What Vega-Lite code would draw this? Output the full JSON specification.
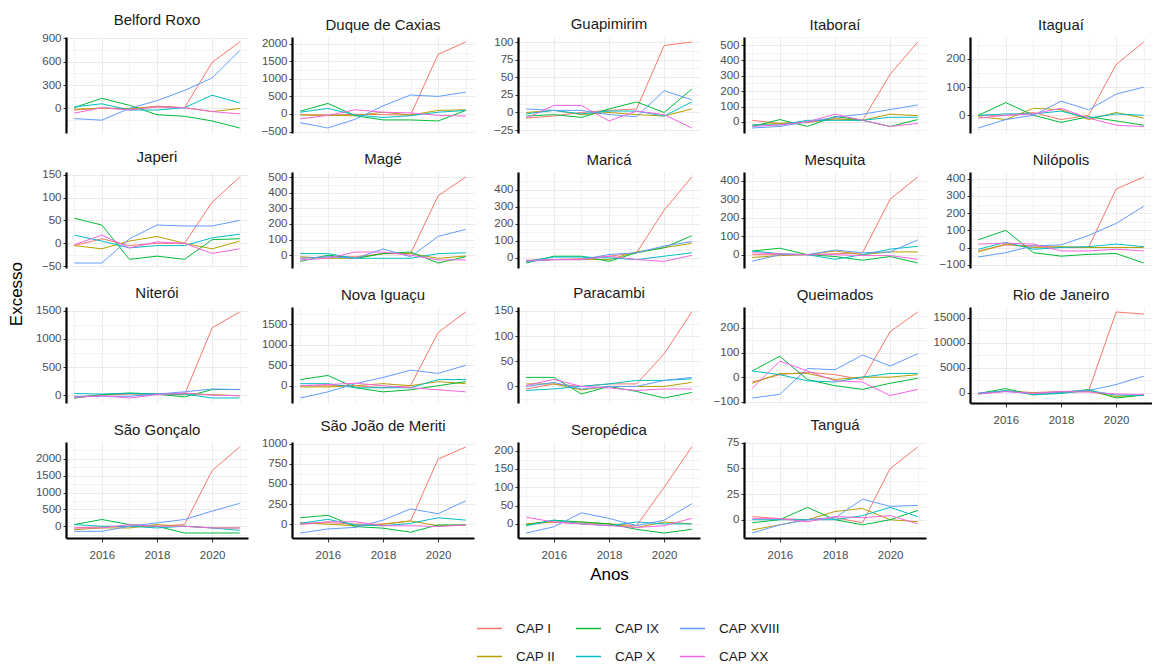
{
  "$schema": "https://vega.github.io/schema/vega-lite/v6.json",
  "background": "white",
  "padding": {"left": 8, "top": 13, "right": 0, "bottom": 0},
  "title": {"text": "Excesso", "orient": "left", "anchor": "middle", "fontSize": 17, "fontWeight": "normal", "font": "Liberation Sans", "color": "#000000", "offset": 9, "dx": 44},
  "data": {"values": [
    {"m":"Belford Roxo","a":2015,"I":-20,"II":-10,"IX":10,"X":20,"XVIII":-130,"XX":-60},
    {"m":"Belford Roxo","a":2016,"I":5,"II":5,"IX":130,"X":60,"XVIII":-150,"XX":10},
    {"m":"Belford Roxo","a":2017,"I":-10,"II":0,"IX":40,"X":-20,"XVIII":0,"XX":-20},
    {"m":"Belford Roxo","a":2018,"I":30,"II":20,"IX":-80,"X":-20,"XVIII":100,"XX":20},
    {"m":"Belford Roxo","a":2019,"I":10,"II":10,"IX":-100,"X":10,"XVIII":230,"XX":10},
    {"m":"Belford Roxo","a":2020,"I":590,"II":-40,"IX":-160,"X":170,"XVIII":390,"XX":-40},
    {"m":"Belford Roxo","a":2021,"I":850,"II":0,"IX":-250,"X":70,"XVIII":740,"XX":-70},
    {"m":"Duque de Caxias","a":2015,"I":-20,"II":-30,"IX":80,"X":50,"XVIII":-250,"XX":-140},
    {"m":"Duque de Caxias","a":2016,"I":-30,"II":-40,"IX":300,"X":160,"XVIII":-400,"XX":-40},
    {"m":"Duque de Caxias","a":2017,"I":-10,"II":-50,"IX":-50,"X":-30,"XVIII":-150,"XX":120},
    {"m":"Duque de Caxias","a":2018,"I":-20,"II":50,"IX":-170,"X":-100,"XVIII":230,"XX":50},
    {"m":"Duque de Caxias","a":2019,"I":-30,"II":-30,"IX":-170,"X":-50,"XVIII":540,"XX":30},
    {"m":"Duque de Caxias","a":2020,"I":1700,"II":100,"IX":-200,"X":50,"XVIII":500,"XX":-40},
    {"m":"Duque de Caxias","a":2021,"I":2050,"II":120,"IX":100,"X":100,"XVIII":620,"XX":-60},
    {"m":"Guapimirim","a":2015,"I":-8,"II":0,"IX":-5,"X":-2,"XVIII":5,"XX":-8},
    {"m":"Guapimirim","a":2016,"I":-5,"II":3,"IX":-3,"X":3,"XVIII":3,"XX":10},
    {"m":"Guapimirim","a":2017,"I":0,"II":-3,"IX":-7,"X":-2,"XVIII":3,"XX":10},
    {"m":"Guapimirim","a":2018,"I":3,"II":0,"IX":5,"X":2,"XVIII":-3,"XX":-12},
    {"m":"Guapimirim","a":2019,"I":5,"II":-3,"IX":15,"X":2,"XVIII":-6,"XX":2},
    {"m":"Guapimirim","a":2020,"I":95,"II":-5,"IX":0,"X":-5,"XVIII":31,"XX":-3},
    {"m":"Guapimirim","a":2021,"I":100,"II":5,"IX":33,"X":15,"XVIII":18,"XX":-22},
    {"m":"Itaboraí","a":2015,"I":10,"II":-20,"IX":-30,"X":-20,"XVIII":-40,"XX":-30},
    {"m":"Itaboraí","a":2016,"I":-10,"II":-10,"IX":15,"X":-20,"XVIII":-30,"XX":-20},
    {"m":"Itaboraí","a":2017,"I":-5,"II":0,"IX":-30,"X":10,"XVIII":0,"XX":0},
    {"m":"Itaboraí","a":2018,"I":20,"II":20,"IX":35,"X":10,"XVIII":30,"XX":50},
    {"m":"Itaboraí","a":2019,"I":10,"II":10,"IX":10,"X":10,"XVIII":50,"XX":10},
    {"m":"Itaboraí","a":2020,"I":310,"II":50,"IX":-30,"X":30,"XVIII":80,"XX":-30},
    {"m":"Itaboraí","a":2021,"I":520,"II":40,"IX":15,"X":30,"XVIII":110,"XX":-10},
    {"m":"Itaguaí","a":2015,"I":0,"II":-5,"IX":0,"X":0,"XVIII":-45,"XX":-10},
    {"m":"Itaguaí","a":2016,"I":0,"II":-15,"IX":45,"X":5,"XVIII":-15,"XX":0},
    {"m":"Itaguaí","a":2017,"I":10,"II":25,"IX":0,"X":5,"XVIII":0,"XX":5},
    {"m":"Itaguaí","a":2018,"I":-15,"II":20,"IX":-25,"X":15,"XVIII":50,"XX":25},
    {"m":"Itaguaí","a":2019,"I":0,"II":-15,"IX":-5,"X":-10,"XVIII":20,"XX":-10},
    {"m":"Itaguaí","a":2020,"I":180,"II":10,"IX":-20,"X":5,"XVIII":75,"XX":-35},
    {"m":"Itaguaí","a":2021,"I":260,"II":-10,"IX":-35,"X":0,"XVIII":100,"XX":-40},
    {"m":"Japeri","a":2015,"I":-5,"II":-5,"IX":55,"X":18,"XVIII":-43,"XX":-3},
    {"m":"Japeri","a":2016,"I":10,"II":-12,"IX":40,"X":5,"XVIII":-43,"XX":18},
    {"m":"Japeri","a":2017,"I":-5,"II":5,"IX":-35,"X":-10,"XVIII":10,"XX":-10},
    {"m":"Japeri","a":2018,"I":0,"II":15,"IX":-28,"X":-5,"XVIII":40,"XX":3},
    {"m":"Japeri","a":2019,"I":0,"II":0,"IX":-35,"X":-5,"XVIII":38,"XX":0},
    {"m":"Japeri","a":2020,"I":90,"II":-12,"IX":8,"X":12,"XVIII":38,"XX":-22},
    {"m":"Japeri","a":2021,"I":145,"II":5,"IX":10,"X":20,"XVIII":50,"XX":-12},
    {"m":"Magé","a":2015,"I":-20,"II":-10,"IX":-40,"X":10,"XVIII":-20,"XX":-30},
    {"m":"Magé","a":2016,"I":-10,"II":-20,"IX":0,"X":10,"XVIII":-10,"XX":-20},
    {"m":"Magé","a":2017,"I":-10,"II":-20,"IX":-20,"X":-20,"XVIII":-20,"XX":20},
    {"m":"Magé","a":2018,"I":10,"II":10,"IX":10,"X":-20,"XVIII":40,"XX":20},
    {"m":"Magé","a":2019,"I":10,"II":10,"IX":20,"X":-20,"XVIII":-10,"XX":0},
    {"m":"Magé","a":2020,"I":380,"II":-20,"IX":-50,"X":10,"XVIII":120,"XX":-30},
    {"m":"Magé","a":2021,"I":500,"II":-5,"IX":-10,"X":15,"XVIII":165,"XX":-30},
    {"m":"Maricá","a":2015,"I":-20,"II":-15,"IX":-30,"X":-20,"XVIII":-20,"XX":-15},
    {"m":"Maricá","a":2016,"I":-10,"II":-10,"IX":10,"X":5,"XVIII":-10,"XX":-10},
    {"m":"Maricá","a":2017,"I":-5,"II":-10,"IX":10,"X":5,"XVIII":-10,"XX":-10},
    {"m":"Maricá","a":2018,"I":10,"II":-10,"IX":-20,"X":0,"XVIII":20,"XX":10},
    {"m":"Maricá","a":2019,"I":30,"II":35,"IX":30,"X":-10,"XVIII":30,"XX":-10},
    {"m":"Maricá","a":2020,"I":280,"II":60,"IX":60,"X":10,"XVIII":70,"XX":-20},
    {"m":"Maricá","a":2021,"I":475,"II":85,"IX":130,"X":30,"XVIII":95,"XX":15},
    {"m":"Mesquita","a":2015,"I":0,"II":-15,"IX":20,"X":20,"XVIII":-35,"XX":10},
    {"m":"Mesquita","a":2016,"I":0,"II":-5,"IX":35,"X":5,"XVIII":0,"XX":5},
    {"m":"Mesquita","a":2017,"I":0,"II":0,"IX":0,"X":0,"XVIII":0,"XX":0},
    {"m":"Mesquita","a":2018,"I":5,"II":20,"IX":-10,"X":-25,"XVIII":25,"XX":0},
    {"m":"Mesquita","a":2019,"I":10,"II":0,"IX":-30,"X":0,"XVIII":10,"XX":-5},
    {"m":"Mesquita","a":2020,"I":300,"II":15,"IX":-10,"X":30,"XVIII":15,"XX":-5},
    {"m":"Mesquita","a":2021,"I":420,"II":15,"IX":-45,"X":45,"XVIII":80,"XX":-25},
    {"m":"Nilópolis","a":2015,"I":-20,"II":-25,"IX":45,"X":-10,"XVIII":-55,"XX":20},
    {"m":"Nilópolis","a":2016,"I":15,"II":20,"IX":100,"X":30,"XVIII":-30,"XX":25},
    {"m":"Nilópolis","a":2017,"I":10,"II":0,"IX":-30,"X":-10,"XVIII":10,"XX":20},
    {"m":"Nilópolis","a":2018,"I":0,"II":5,"IX":-50,"X":0,"XVIII":15,"XX":-20},
    {"m":"Nilópolis","a":2019,"I":0,"II":0,"IX":-40,"X":5,"XVIII":70,"XX":-20},
    {"m":"Nilópolis","a":2020,"I":340,"II":0,"IX":-35,"X":20,"XVIII":140,"XX":-10},
    {"m":"Nilópolis","a":2021,"I":410,"II":0,"IX":-90,"X":5,"XVIII":240,"XX":-20},
    {"m":"Niterói","a":2015,"I":-30,"II":-50,"IX":-50,"X":30,"XVIII":-20,"XX":-40},
    {"m":"Niterói","a":2016,"I":0,"II":10,"IX":10,"X":20,"XVIII":-20,"XX":-10},
    {"m":"Niterói","a":2017,"I":20,"II":30,"IX":40,"X":30,"XVIII":-20,"XX":-50},
    {"m":"Niterói","a":2018,"I":10,"II":20,"IX":20,"X":20,"XVIII":20,"XX":10},
    {"m":"Niterói","a":2019,"I":10,"II":30,"IX":-30,"X":20,"XVIII":60,"XX":40},
    {"m":"Niterói","a":2020,"I":1200,"II":10,"IX":100,"X":-50,"XVIII":110,"XX":0},
    {"m":"Niterói","a":2021,"I":1480,"II":-10,"IX":100,"X":-50,"XVIII":100,"XX":-10},
    {"m":"Nova Iguaçu","a":2015,"I":0,"II":-30,"IX":150,"X":50,"XVIII":-300,"XX":0},
    {"m":"Nova Iguaçu","a":2016,"I":0,"II":-30,"IX":250,"X":50,"XVIII":-150,"XX":30},
    {"m":"Nova Iguaçu","a":2017,"I":0,"II":0,"IX":-50,"X":-50,"XVIII":50,"XX":60},
    {"m":"Nova Iguaçu","a":2018,"I":-50,"II":50,"IX":-150,"X":-50,"XVIII":200,"XX":0},
    {"m":"Nova Iguaçu","a":2019,"I":0,"II":0,"IX":-100,"X":-50,"XVIII":380,"XX":-50},
    {"m":"Nova Iguaçu","a":2020,"I":1300,"II":100,"IX":0,"X":150,"XVIII":300,"XX":-100},
    {"m":"Nova Iguaçu","a":2021,"I":1800,"II":50,"IX":100,"X":150,"XVIII":500,"XX":-150},
    {"m":"Paracambi","a":2015,"I":-5,"II":5,"IX":18,"X":-8,"XVIII":0,"XX":2},
    {"m":"Paracambi","a":2016,"I":5,"II":5,"IX":18,"X":-5,"XVIII":8,"XX":14},
    {"m":"Paracambi","a":2017,"I":0,"II":-7,"IX":-15,"X":0,"XVIII":-5,"XX":0},
    {"m":"Paracambi","a":2018,"I":5,"II":0,"IX":0,"X":5,"XVIII":0,"XX":-3},
    {"m":"Paracambi","a":2019,"I":5,"II":0,"IX":-10,"X":12,"XVIII":0,"XX":-8},
    {"m":"Paracambi","a":2020,"I":65,"II":0,"IX":-23,"X":12,"XVIII":12,"XX":-5},
    {"m":"Paracambi","a":2021,"I":148,"II":8,"IX":-12,"X":15,"XVIII":18,"XX":-5},
    {"m":"Queimados","a":2015,"I":-20,"II":-25,"IX":25,"X":25,"XVIII":-85,"XX":-45},
    {"m":"Queimados","a":2016,"I":10,"II":15,"IX":85,"X":10,"XVIII":-70,"XX":65},
    {"m":"Queimados","a":2017,"I":20,"II":15,"IX":-10,"X":-15,"XVIII":35,"XX":25},
    {"m":"Queimados","a":2018,"I":10,"II":-10,"IX":-35,"X":-20,"XVIII":30,"XX":-15},
    {"m":"Queimados","a":2019,"I":-10,"II":0,"IX":-50,"X":0,"XVIII":90,"XX":-20},
    {"m":"Queimados","a":2020,"I":185,"II":0,"IX":-25,"X":15,"XVIII":45,"XX":-75},
    {"m":"Queimados","a":2021,"I":265,"II":10,"IX":-5,"X":15,"XVIII":95,"XX":-50},
    {"m":"Rio de Janeiro","a":2015,"I":-200,"II":-300,"IX":-200,"X":-200,"XVIII":-100,"XX":-300},
    {"m":"Rio de Janeiro","a":2016,"I":300,"II":300,"IX":800,"X":400,"XVIII":200,"XX":200},
    {"m":"Rio de Janeiro","a":2017,"I":0,"II":-100,"IX":-500,"X":-400,"XVIII":-200,"XX":-200},
    {"m":"Rio de Janeiro","a":2018,"I":200,"II":100,"IX":0,"X":-200,"XVIII":100,"XX":200},
    {"m":"Rio de Janeiro","a":2019,"I":300,"II":200,"IX":600,"X":400,"XVIII":400,"XX":100},
    {"m":"Rio de Janeiro","a":2020,"I":16200,"II":-800,"IX":-1100,"X":-500,"XVIII":1600,"XX":-300},
    {"m":"Rio de Janeiro","a":2021,"I":15800,"II":-500,"IX":-500,"X":-600,"XVIII":3300,"XX":-400},
    {"m":"São Gonçalo","a":2015,"I":-50,"II":-100,"IX":50,"X":50,"XVIII":-150,"XX":-50},
    {"m":"São Gonçalo","a":2016,"I":-20,"II":-50,"IX":200,"X":0,"XVIII":-150,"XX":-50},
    {"m":"São Gonçalo","a":2017,"I":0,"II":-50,"IX":50,"X":0,"XVIII":0,"XX":50},
    {"m":"São Gonçalo","a":2018,"I":0,"II":50,"IX":0,"X":-50,"XVIII":100,"XX":0},
    {"m":"São Gonçalo","a":2019,"I":50,"II":0,"IX":-200,"X":0,"XVIII":200,"XX":0},
    {"m":"São Gonçalo","a":2020,"I":1650,"II":-50,"IX":-200,"X":-50,"XVIII":450,"XX":-50},
    {"m":"São Gonçalo","a":2021,"I":2350,"II":-50,"IX":-200,"X":-120,"XVIII":680,"XX":-50},
    {"m":"São João de Meriti","a":2015,"I":0,"II":20,"IX":80,"X":10,"XVIII":-110,"XX":0},
    {"m":"São João de Meriti","a":2016,"I":20,"II":0,"IX":110,"X":60,"XVIII":-60,"XX":30},
    {"m":"São João de Meriti","a":2017,"I":0,"II":-20,"IX":-30,"X":-10,"XVIII":-40,"XX":30},
    {"m":"São João de Meriti","a":2018,"I":0,"II":0,"IX":-50,"X":-20,"XVIII":50,"XX":-20},
    {"m":"São João de Meriti","a":2019,"I":40,"II":40,"IX":-100,"X":10,"XVIII":190,"XX":-20},
    {"m":"São João de Meriti","a":2020,"I":810,"II":-20,"IX":-10,"X":80,"XVIII":130,"XX":-30},
    {"m":"São João de Meriti","a":2021,"I":960,"II":-10,"IX":-10,"X":50,"XVIII":290,"XX":-10},
    {"m":"Seropédica","a":2015,"I":0,"II":0,"IX":-3,"X":-5,"XVIII":-25,"XX":18},
    {"m":"Seropédica","a":2016,"I":5,"II":5,"IX":10,"X":10,"XVIII":-8,"XX":5},
    {"m":"Seropédica","a":2017,"I":0,"II":5,"IX":5,"X":0,"XVIII":30,"XX":0},
    {"m":"Seropédica","a":2018,"I":0,"II":0,"IX":0,"X":-5,"XVIII":15,"XX":-5},
    {"m":"Seropédica","a":2019,"I":-5,"II":-10,"IX":-15,"X":5,"XVIII":-5,"XX":-10},
    {"m":"Seropédica","a":2020,"I":100,"II":5,"IX":-25,"X":0,"XVIII":10,"XX":-5},
    {"m":"Seropédica","a":2021,"I":210,"II":0,"IX":-15,"X":0,"XVIII":55,"XX":15},
    {"m":"Tanguá","a":2015,"I":3,"II":-10,"IX":-3,"X":0,"XVIII":-13,"XX":1},
    {"m":"Tanguá","a":2016,"I":1,"II":-5,"IX":0,"X":0,"XVIII":-5,"XX":1},
    {"m":"Tanguá","a":2017,"I":0,"II":0,"IX":12,"X":0,"XVIII":0,"XX":-2},
    {"m":"Tanguá","a":2018,"I":2,"II":8,"IX":0,"X":0,"XVIII":2,"XX":3},
    {"m":"Tanguá","a":2019,"I":-3,"II":11,"IX":-5,"X":4,"XVIII":20,"XX":2},
    {"m":"Tanguá","a":2020,"I":50,"II":0,"IX":0,"X":12,"XVIII":13,"XX":4},
    {"m":"Tanguá","a":2021,"I":71,"II":-2,"IX":9,"X":3,"XVIII":14,"XX":-4}
  ]},
  "transform": [{"fold": ["I","II","IX","X","XVIII","XX"], "as": ["cap","excesso"]}],
  "columns": 5,
  "spacing": {"row": 39, "column": 44},
  "bounds": "flush",
  "resolve": {"scale": {"y": "independent", "x": "shared", "color": "shared"}},
  "concat": [
    {"title": "Belford Roxo", "transform": [{"filter": {"field": "m", "equal": "Belford Roxo"}}], "mark": {"type": "line", "strokeWidth": 1},
     "encoding": {"x": {"field": "a", "type": "quantitative", "scale": {"domain": [2014.7, 2021.3], "nice": false, "zero": false}, "axis": {"title": null, "values": [2015,2016,2017,2018,2019,2020,2021], "labels": false, "ticks": false, "domain": false, "gridWidth": {"condition": {"test": "datum.value % 2 == 1", "value": 0.6}, "value": 1}}},
      "y": {"field": "excesso", "type": "quantitative", "scale": {"zero": false, "nice": false, "padding": 5}, "axis": {"title": null, "format": "d", "values": [-150,0,150,300,450,600,750,900], "labelExpr": "datum.value % 300 == 0 ? datum.label : ''", "tickOpacity": {"condition": {"test": "datum.value % 300 != 0", "value": 0}, "value": 1}, "gridWidth": {"condition": {"test": "datum.value % 300 != 0", "value": 0.6}, "value": 1}}},
      "color": {"field": "cap", "type": "nominal", "scale": {"domain": ["I","IX","XVIII","II","X","XX"], "range": ["#F8766D","#00BA38","#619CFF","#B79F00","#00BFC4","#F564E3"]}, "legend": {"title": null, "labelExpr": "'CAP ' + datum.label"}}}},
    {"title": "Duque de Caxias", "transform": [{"filter": {"field": "m", "equal": "Duque de Caxias"}}], "mark": {"type": "line", "strokeWidth": 1},
     "encoding": {"x": {"field": "a", "type": "quantitative", "scale": {"domain": [2014.7, 2021.3], "nice": false, "zero": false}, "axis": {"title": null, "values": [2015,2016,2017,2018,2019,2020,2021], "labels": false, "ticks": false, "domain": false, "gridWidth": {"condition": {"test": "datum.value % 2 == 1", "value": 0.6}, "value": 1}}},
      "y": {"field": "excesso", "type": "quantitative", "scale": {"zero": false, "nice": false, "padding": 5}, "axis": {"title": null, "format": "d", "values": [-500,-250,0,250,500,750,1000,1250,1500,1750,2000], "labelExpr": "datum.value % 500 == 0 ? datum.label : ''", "tickOpacity": {"condition": {"test": "datum.value % 500 != 0", "value": 0}, "value": 1}, "gridWidth": {"condition": {"test": "datum.value % 500 != 0", "value": 0.6}, "value": 1}}},
      "color": {"field": "cap", "type": "nominal"}}},
    {"title": "Guapimirim", "transform": [{"filter": {"field": "m", "equal": "Guapimirim"}}], "mark": {"type": "line", "strokeWidth": 1},
     "encoding": {"x": {"field": "a", "type": "quantitative", "scale": {"domain": [2014.7, 2021.3], "nice": false, "zero": false}, "axis": {"title": null, "values": [2015,2016,2017,2018,2019,2020,2021], "labels": false, "ticks": false, "domain": false, "gridWidth": {"condition": {"test": "datum.value % 2 == 1", "value": 0.6}, "value": 1}}},
      "y": {"field": "excesso", "type": "quantitative", "scale": {"zero": false, "nice": false, "padding": 5}, "axis": {"title": null, "format": "d", "values": [-25,-12.5,0,12.5,25,37.5,50,62.5,75,87.5,100], "labelExpr": "datum.value % 25 == 0 ? datum.label : ''", "tickOpacity": {"condition": {"test": "datum.value % 25 != 0", "value": 0}, "value": 1}, "gridWidth": {"condition": {"test": "datum.value % 25 != 0", "value": 0.6}, "value": 1}}},
      "color": {"field": "cap", "type": "nominal"}}},
    {"title": "Itaboraí", "transform": [{"filter": {"field": "m", "equal": "Itaboraí"}}], "mark": {"type": "line", "strokeWidth": 1},
     "encoding": {"x": {"field": "a", "type": "quantitative", "scale": {"domain": [2014.7, 2021.3], "nice": false, "zero": false}, "axis": {"title": null, "values": [2015,2016,2017,2018,2019,2020,2021], "labels": false, "ticks": false, "domain": false, "gridWidth": {"condition": {"test": "datum.value % 2 == 1", "value": 0.6}, "value": 1}}},
      "y": {"field": "excesso", "type": "quantitative", "scale": {"zero": false, "nice": false, "padding": 5}, "axis": {"title": null, "format": "d", "values": [-50,0,50,100,150,200,250,300,350,400,450,500,550], "labelExpr": "datum.value % 100 == 0 ? datum.label : ''", "tickOpacity": {"condition": {"test": "datum.value % 100 != 0", "value": 0}, "value": 1}, "gridWidth": {"condition": {"test": "datum.value % 100 != 0", "value": 0.6}, "value": 1}}},
      "color": {"field": "cap", "type": "nominal"}}},
    {"title": "Itaguaí", "transform": [{"filter": {"field": "m", "equal": "Itaguaí"}}], "mark": {"type": "line", "strokeWidth": 1},
     "encoding": {"x": {"field": "a", "type": "quantitative", "scale": {"domain": [2014.7, 2021.3], "nice": false, "zero": false}, "axis": {"title": null, "values": [2015,2016,2017,2018,2019,2020,2021], "labels": false, "ticks": false, "domain": false, "gridWidth": {"condition": {"test": "datum.value % 2 == 1", "value": 0.6}, "value": 1}}},
      "y": {"field": "excesso", "type": "quantitative", "scale": {"zero": false, "nice": false, "padding": 5}, "axis": {"title": null, "format": "d", "values": [-50,0,50,100,150,200,250], "labelExpr": "datum.value % 100 == 0 ? datum.label : ''", "tickOpacity": {"condition": {"test": "datum.value % 100 != 0", "value": 0}, "value": 1}, "gridWidth": {"condition": {"test": "datum.value % 100 != 0", "value": 0.6}, "value": 1}}},
      "color": {"field": "cap", "type": "nominal"}}},
    {"title": "Japeri", "transform": [{"filter": {"field": "m", "equal": "Japeri"}}], "mark": {"type": "line", "strokeWidth": 1},
     "encoding": {"x": {"field": "a", "type": "quantitative", "scale": {"domain": [2014.7, 2021.3], "nice": false, "zero": false}, "axis": {"title": null, "values": [2015,2016,2017,2018,2019,2020,2021], "labels": false, "ticks": false, "domain": false, "gridWidth": {"condition": {"test": "datum.value % 2 == 1", "value": 0.6}, "value": 1}}},
      "y": {"field": "excesso", "type": "quantitative", "scale": {"zero": false, "nice": false, "padding": 5}, "axis": {"title": null, "format": "d", "values": [-50,-25,0,25,50,75,100,125,150], "labelExpr": "datum.value % 50 == 0 ? datum.label : ''", "tickOpacity": {"condition": {"test": "datum.value % 50 != 0", "value": 0}, "value": 1}, "gridWidth": {"condition": {"test": "datum.value % 50 != 0", "value": 0.6}, "value": 1}}},
      "color": {"field": "cap", "type": "nominal"}}},
    {"title": "Magé", "transform": [{"filter": {"field": "m", "equal": "Magé"}}], "mark": {"type": "line", "strokeWidth": 1},
     "encoding": {"x": {"field": "a", "type": "quantitative", "scale": {"domain": [2014.7, 2021.3], "nice": false, "zero": false}, "axis": {"title": null, "values": [2015,2016,2017,2018,2019,2020,2021], "labels": false, "ticks": false, "domain": false, "gridWidth": {"condition": {"test": "datum.value % 2 == 1", "value": 0.6}, "value": 1}}},
      "y": {"field": "excesso", "type": "quantitative", "scale": {"zero": false, "nice": false, "padding": 5}, "axis": {"title": null, "format": "d", "values": [-50,0,50,100,150,200,250,300,350,400,450,500], "labelExpr": "datum.value % 100 == 0 ? datum.label : ''", "tickOpacity": {"condition": {"test": "datum.value % 100 != 0", "value": 0}, "value": 1}, "gridWidth": {"condition": {"test": "datum.value % 100 != 0", "value": 0.6}, "value": 1}}},
      "color": {"field": "cap", "type": "nominal"}}},
    {"title": "Maricá", "transform": [{"filter": {"field": "m", "equal": "Maricá"}}], "mark": {"type": "line", "strokeWidth": 1},
     "encoding": {"x": {"field": "a", "type": "quantitative", "scale": {"domain": [2014.7, 2021.3], "nice": false, "zero": false}, "axis": {"title": null, "values": [2015,2016,2017,2018,2019,2020,2021], "labels": false, "ticks": false, "domain": false, "gridWidth": {"condition": {"test": "datum.value % 2 == 1", "value": 0.6}, "value": 1}}},
      "y": {"field": "excesso", "type": "quantitative", "scale": {"zero": false, "nice": false, "padding": 5}, "axis": {"title": null, "format": "d", "values": [-50,0,50,100,150,200,250,300,350,400,450], "labelExpr": "datum.value % 100 == 0 ? datum.label : ''", "tickOpacity": {"condition": {"test": "datum.value % 100 != 0", "value": 0}, "value": 1}, "gridWidth": {"condition": {"test": "datum.value % 100 != 0", "value": 0.6}, "value": 1}}},
      "color": {"field": "cap", "type": "nominal"}}},
    {"title": "Mesquita", "transform": [{"filter": {"field": "m", "equal": "Mesquita"}}], "mark": {"type": "line", "strokeWidth": 1},
     "encoding": {"x": {"field": "a", "type": "quantitative", "scale": {"domain": [2014.7, 2021.3], "nice": false, "zero": false}, "axis": {"title": null, "values": [2015,2016,2017,2018,2019,2020,2021], "labels": false, "ticks": false, "domain": false, "gridWidth": {"condition": {"test": "datum.value % 2 == 1", "value": 0.6}, "value": 1}}},
      "y": {"field": "excesso", "type": "quantitative", "scale": {"zero": false, "nice": false, "padding": 5}, "axis": {"title": null, "format": "d", "values": [-50,0,50,100,150,200,250,300,350,400], "labelExpr": "datum.value % 100 == 0 ? datum.label : ''", "tickOpacity": {"condition": {"test": "datum.value % 100 != 0", "value": 0}, "value": 1}, "gridWidth": {"condition": {"test": "datum.value % 100 != 0", "value": 0.6}, "value": 1}}},
      "color": {"field": "cap", "type": "nominal"}}},
    {"title": "Nilópolis", "transform": [{"filter": {"field": "m", "equal": "Nilópolis"}}], "mark": {"type": "line", "strokeWidth": 1},
     "encoding": {"x": {"field": "a", "type": "quantitative", "scale": {"domain": [2014.7, 2021.3], "nice": false, "zero": false}, "axis": {"title": null, "values": [2015,2016,2017,2018,2019,2020,2021], "labels": false, "ticks": false, "domain": false, "gridWidth": {"condition": {"test": "datum.value % 2 == 1", "value": 0.6}, "value": 1}}},
      "y": {"field": "excesso", "type": "quantitative", "scale": {"zero": false, "nice": false, "padding": 5}, "axis": {"title": null, "format": "d", "values": [-100,-50,0,50,100,150,200,250,300,350,400], "labelExpr": "datum.value % 100 == 0 ? datum.label : ''", "tickOpacity": {"condition": {"test": "datum.value % 100 != 0", "value": 0}, "value": 1}, "gridWidth": {"condition": {"test": "datum.value % 100 != 0", "value": 0.6}, "value": 1}}},
      "color": {"field": "cap", "type": "nominal"}}},
    {"title": "Niterói", "transform": [{"filter": {"field": "m", "equal": "Niterói"}}], "mark": {"type": "line", "strokeWidth": 1},
     "encoding": {"x": {"field": "a", "type": "quantitative", "scale": {"domain": [2014.7, 2021.3], "nice": false, "zero": false}, "axis": {"title": null, "values": [2015,2016,2017,2018,2019,2020,2021], "labels": false, "ticks": false, "domain": false, "gridWidth": {"condition": {"test": "datum.value % 2 == 1", "value": 0.6}, "value": 1}}},
      "y": {"field": "excesso", "type": "quantitative", "scale": {"zero": false, "nice": false, "padding": 5}, "axis": {"title": null, "format": "d", "values": [0,250,500,750,1000,1250,1500], "labelExpr": "datum.value % 500 == 0 ? datum.label : ''", "tickOpacity": {"condition": {"test": "datum.value % 500 != 0", "value": 0}, "value": 1}, "gridWidth": {"condition": {"test": "datum.value % 500 != 0", "value": 0.6}, "value": 1}}},
      "color": {"field": "cap", "type": "nominal"}}},
    {"title": "Nova Iguaçu", "transform": [{"filter": {"field": "m", "equal": "Nova Iguaçu"}}], "mark": {"type": "line", "strokeWidth": 1},
     "encoding": {"x": {"field": "a", "type": "quantitative", "scale": {"domain": [2014.7, 2021.3], "nice": false, "zero": false}, "axis": {"title": null, "values": [2015,2016,2017,2018,2019,2020,2021], "labels": false, "ticks": false, "domain": false, "gridWidth": {"condition": {"test": "datum.value % 2 == 1", "value": 0.6}, "value": 1}}},
      "y": {"field": "excesso", "type": "quantitative", "scale": {"zero": false, "nice": false, "padding": 5}, "axis": {"title": null, "format": "d", "values": [-250,0,250,500,750,1000,1250,1500,1750], "labelExpr": "datum.value % 500 == 0 ? datum.label : ''", "tickOpacity": {"condition": {"test": "datum.value % 500 != 0", "value": 0}, "value": 1}, "gridWidth": {"condition": {"test": "datum.value % 500 != 0", "value": 0.6}, "value": 1}}},
      "color": {"field": "cap", "type": "nominal"}}},
    {"title": "Paracambi", "transform": [{"filter": {"field": "m", "equal": "Paracambi"}}], "mark": {"type": "line", "strokeWidth": 1},
     "encoding": {"x": {"field": "a", "type": "quantitative", "scale": {"domain": [2014.7, 2021.3], "nice": false, "zero": false}, "axis": {"title": null, "values": [2015,2016,2017,2018,2019,2020,2021], "labels": false, "ticks": false, "domain": false, "gridWidth": {"condition": {"test": "datum.value % 2 == 1", "value": 0.6}, "value": 1}}},
      "y": {"field": "excesso", "type": "quantitative", "scale": {"zero": false, "nice": false, "padding": 5}, "axis": {"title": null, "format": "d", "values": [-25,0,25,50,75,100,125,150], "labelExpr": "datum.value % 50 == 0 ? datum.label : ''", "tickOpacity": {"condition": {"test": "datum.value % 50 != 0", "value": 0}, "value": 1}, "gridWidth": {"condition": {"test": "datum.value % 50 != 0", "value": 0.6}, "value": 1}}},
      "color": {"field": "cap", "type": "nominal"}}},
    {"title": "Queimados", "transform": [{"filter": {"field": "m", "equal": "Queimados"}}], "mark": {"type": "line", "strokeWidth": 1},
     "encoding": {"x": {"field": "a", "type": "quantitative", "scale": {"domain": [2014.7, 2021.3], "nice": false, "zero": false}, "axis": {"title": null, "values": [2015,2016,2017,2018,2019,2020,2021], "labels": false, "ticks": false, "domain": false, "gridWidth": {"condition": {"test": "datum.value % 2 == 1", "value": 0.6}, "value": 1}}},
      "y": {"field": "excesso", "type": "quantitative", "scale": {"zero": false, "nice": false, "padding": 5}, "axis": {"title": null, "format": "d", "values": [-100,-50,0,50,100,150,200,250], "labelExpr": "datum.value % 100 == 0 ? datum.label : ''", "tickOpacity": {"condition": {"test": "datum.value % 100 != 0", "value": 0}, "value": 1}, "gridWidth": {"condition": {"test": "datum.value % 100 != 0", "value": 0.6}, "value": 1}}},
      "color": {"field": "cap", "type": "nominal"}}},
    {"title": "Rio de Janeiro", "transform": [{"filter": {"field": "m", "equal": "Rio de Janeiro"}}], "mark": {"type": "line", "strokeWidth": 1},
     "encoding": {"x": {"field": "a", "type": "quantitative", "scale": {"domain": [2014.7, 2021.3], "nice": false, "zero": false}, "axis": {"title": null, "format": "d", "labelPadding": 7, "tickSize": 4, "values": [2015,2016,2017,2018,2019,2020,2021], "labelExpr": "datum.value % 2 == 0 ? datum.label : ''", "tickOpacity": {"condition": {"test": "datum.value % 2 == 1", "value": 0}, "value": 1}, "gridWidth": {"condition": {"test": "datum.value % 2 == 1", "value": 0.6}, "value": 1}}},
      "y": {"field": "excesso", "type": "quantitative", "scale": {"zero": false, "nice": false, "padding": 5}, "axis": {"title": null, "format": "d", "values": [0,2500,5000,7500,10000,12500,15000], "labelExpr": "datum.value % 5000 == 0 ? datum.label : ''", "tickOpacity": {"condition": {"test": "datum.value % 5000 != 0", "value": 0}, "value": 1}, "gridWidth": {"condition": {"test": "datum.value % 5000 != 0", "value": 0.6}, "value": 1}}},
      "color": {"field": "cap", "type": "nominal"}}},
    {"title": "São Gonçalo", "transform": [{"filter": {"field": "m", "equal": "São Gonçalo"}}], "mark": {"type": "line", "strokeWidth": 1},
     "encoding": {"x": {"field": "a", "type": "quantitative", "scale": {"domain": [2014.7, 2021.3], "nice": false, "zero": false}, "axis": {"title": null, "format": "d", "labelPadding": 7, "tickSize": 4, "values": [2015,2016,2017,2018,2019,2020,2021], "labelExpr": "datum.value % 2 == 0 ? datum.label : ''", "tickOpacity": {"condition": {"test": "datum.value % 2 == 1", "value": 0}, "value": 1}, "gridWidth": {"condition": {"test": "datum.value % 2 == 1", "value": 0.6}, "value": 1}}},
      "y": {"field": "excesso", "type": "quantitative", "scale": {"zero": false, "nice": false, "padding": 5}, "axis": {"title": null, "format": "d", "values": [-250,0,250,500,750,1000,1250,1500,1750,2000,2250], "labelExpr": "datum.value % 500 == 0 ? datum.label : ''", "tickOpacity": {"condition": {"test": "datum.value % 500 != 0", "value": 0}, "value": 1}, "gridWidth": {"condition": {"test": "datum.value % 500 != 0", "value": 0.6}, "value": 1}}},
      "color": {"field": "cap", "type": "nominal"}}},
    {"title": "São João de Meriti", "transform": [{"filter": {"field": "m", "equal": "São João de Meriti"}}], "mark": {"type": "line", "strokeWidth": 1},
     "encoding": {"x": {"field": "a", "type": "quantitative", "scale": {"domain": [2014.7, 2021.3], "nice": false, "zero": false}, "axis": {"title": null, "format": "d", "labelPadding": 7, "tickSize": 4, "values": [2015,2016,2017,2018,2019,2020,2021], "labelExpr": "datum.value % 2 == 0 ? datum.label : ''", "tickOpacity": {"condition": {"test": "datum.value % 2 == 1", "value": 0}, "value": 1}, "gridWidth": {"condition": {"test": "datum.value % 2 == 1", "value": 0.6}, "value": 1}}},
      "y": {"field": "excesso", "type": "quantitative", "scale": {"zero": false, "nice": false, "padding": 5}, "axis": {"title": null, "format": "d", "values": [-125,0,125,250,375,500,625,750,875,1000], "labelExpr": "datum.value % 250 == 0 ? datum.label : ''", "tickOpacity": {"condition": {"test": "datum.value % 250 != 0", "value": 0}, "value": 1}, "gridWidth": {"condition": {"test": "datum.value % 250 != 0", "value": 0.6}, "value": 1}}},
      "color": {"field": "cap", "type": "nominal"}}},
    {"title": "Seropédica", "transform": [{"filter": {"field": "m", "equal": "Seropédica"}}], "mark": {"type": "line", "strokeWidth": 1},
     "encoding": {"x": {"field": "a", "type": "quantitative", "scale": {"domain": [2014.7, 2021.3], "nice": false, "zero": false}, "axis": {"title": "Anos", "titleFontSize": 17, "titleFontWeight": "normal", "titleColor": "#000000", "titlePadding": 6, "format": "d", "labelPadding": 7, "tickSize": 4, "values": [2015,2016,2017,2018,2019,2020,2021], "labelExpr": "datum.value % 2 == 0 ? datum.label : ''", "tickOpacity": {"condition": {"test": "datum.value % 2 == 1", "value": 0}, "value": 1}, "gridWidth": {"condition": {"test": "datum.value % 2 == 1", "value": 0.6}, "value": 1}}},
      "y": {"field": "excesso", "type": "quantitative", "scale": {"zero": false, "nice": false, "padding": 5}, "axis": {"title": null, "format": "d", "values": [-25,0,25,50,75,100,125,150,175,200], "labelExpr": "datum.value % 50 == 0 ? datum.label : ''", "tickOpacity": {"condition": {"test": "datum.value % 50 != 0", "value": 0}, "value": 1}, "gridWidth": {"condition": {"test": "datum.value % 50 != 0", "value": 0.6}, "value": 1}}},
      "color": {"field": "cap", "type": "nominal"}}},
    {"title": "Tanguá", "transform": [{"filter": {"field": "m", "equal": "Tanguá"}}], "mark": {"type": "line", "strokeWidth": 1},
     "encoding": {"x": {"field": "a", "type": "quantitative", "scale": {"domain": [2014.7, 2021.3], "nice": false, "zero": false}, "axis": {"title": null, "format": "d", "labelPadding": 7, "tickSize": 4, "values": [2015,2016,2017,2018,2019,2020,2021], "labelExpr": "datum.value % 2 == 0 ? datum.label : ''", "tickOpacity": {"condition": {"test": "datum.value % 2 == 1", "value": 0}, "value": 1}, "gridWidth": {"condition": {"test": "datum.value % 2 == 1", "value": 0.6}, "value": 1}}},
      "y": {"field": "excesso", "type": "quantitative", "scale": {"zero": false, "nice": false, "padding": 5}, "axis": {"title": null, "format": "d", "values": [-12.5,0,12.5,25,37.5,50,62.5,75], "labelExpr": "datum.value % 25 == 0 ? datum.label : ''", "tickOpacity": {"condition": {"test": "datum.value % 25 != 0", "value": 0}, "value": 1}, "gridWidth": {"condition": {"test": "datum.value % 25 != 0", "value": 0.6}, "value": 1}}},
      "color": {"field": "cap", "type": "nominal"}}}
  ],
  "config": {
    "view": {"stroke": null, "continuousWidth": 182, "continuousHeight": 96},
    "font": "Liberation Sans",
    "title": {"fontSize": 15, "fontWeight": "normal", "color": "#1a1a1a", "font": "Liberation Sans", "offset": 4},
    "axis": {"labelFont": "Liberation Sans", "labelFontSize": 11.5, "labelColor": "#4d4d4d", "gridColor": "#ebebeb", "gridWidth": 1,
      "domainColor": "#000000", "domainWidth": 2.2, "tickColor": "#333333", "tickSize": 3, "labelPadding": 2},
    "legend": {"orient": "none", "legendX": 410, "legendY": 578, "direction": "horizontal", "columns": 3, "symbolType": "stroke", "symbolStrokeWidth": 1.5, "symbolSize": 625,
      "labelFont": "Liberation Sans", "labelFontSize": 13.5, "labelColor": "#1a1a1a", "rowPadding": 8, "columnPadding": 17, "labelOffset": 13}
  }
}
